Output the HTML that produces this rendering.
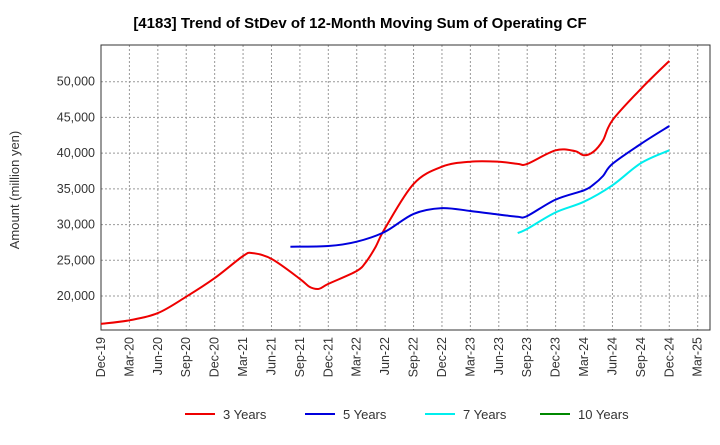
<!DOCTYPE html>
<html><head><meta charset="utf-8"><style>
body{margin:0;background:#fff;font-family:"Liberation Sans",sans-serif;}
</style></head><body>
<svg width="720" height="440" xmlns="http://www.w3.org/2000/svg" id="c"></svg>
<script>
const xLabels=["Dec-19","Mar-20","Jun-20","Sep-20","Dec-20","Mar-21","Jun-21","Sep-21","Dec-21","Mar-22","Jun-22","Sep-22","Dec-22","Mar-23","Jun-23","Sep-23","Dec-23","Mar-24","Jun-24","Sep-24","Dec-24","Mar-25"];
const yTicks=[20000,25000,30000,35000,40000,45000,50000];
const yTickLabels=["20,000","25,000","30,000","35,000","40,000","45,000","50,000"];
const seriesNames=["3 Years","5 Years","7 Years","10 Years"];
const seriesColors=["#e00","#00d","#0ee","#080"];
const s3Months=[0,3,6,9,12,15,16,18,21,22,23,24,27,28,29,30,33,36,39,42,44,45,48,50,51,52,53,54,57,60];
const s3Values=[16100,16600,17600,19900,22500,25600,26000,25200,22400,21300,21000,21700,23500,24800,26900,29500,35700,38100,38800,38800,38500,38500,40400,40300,39700,40200,41800,44600,49000,52900];
const s5Months=[20,24,27,30,33,36,39,42,44,45,48,51,52,53,54,57,60];
const s5Values=[26900,27000,27600,29000,31500,32300,31900,31400,31100,31200,33500,34800,35600,36800,38500,41300,43800];
const s7Months=[44,45,48,51,54,57,60];
const s7Values=[28800,29400,31700,33200,35500,38600,40400];
const s10Months=[];
const s10Values=[];

const L=101,R=710,T=45,B=330,NS="http://www.w3.org/2000/svg";
const svg=document.getElementById('c');
const xS=m=>L+m*(R-L)/64.3;
const yS=v=>B-(v-15240)*(B-T)/(55140-15240);
function el(t,a,p){const e=document.createElementNS(NS,t);for(const k in a)e.setAttribute(k,a[k]);(p||svg).appendChild(e);return e;}
const title=el('text',{x:360,y:28,'text-anchor':'middle','font-size':15,'font-weight':'bold',fill:'#000'});
title.textContent="[4183]  Trend of StDev of 12-Month Moving Sum of Operating CF";


yTicks.forEach((v,i)=>{
  const g=el('line',{x1:L,x2:R,y1:yS(v),y2:yS(v),stroke:'#999','stroke-dasharray':'2,2'});
  
  
  const t=el('text',{x:L-6,y:yS(v)+4,'text-anchor':'end','font-size':12.5,fill:'#333'});
  t.textContent=yTickLabels[i];
  
  
});
xLabels.forEach((s,i)=>{
  const x=xS(i*3);
  const g=el('line',{x1:x,x2:x,y1:T,y2:B,stroke:'#999','stroke-dasharray':'2,2'});
  
  
  const t=el('text',{x:0,y:0,'text-anchor':'end','font-size':12.5,fill:'#333',transform:`translate(${x+4},${B+7}) rotate(-90)`});
  t.textContent=s;
  
  
});
const frame=el('rect',{x:L,y:T,width:R-L,height:B-T,fill:'none',stroke:'#333'});


const yt=el('text',{x:0,y:0,'text-anchor':'middle','font-size':13,fill:'#333',transform:'translate(19,190) rotate(-90)'});
yt.textContent="Amount (million yen)";


function smooth(pts){
  let d='M'+pts[0][0].toFixed(1)+','+pts[0][1].toFixed(1);
  for(let i=0;i<pts.length-1;i++){
    const p0=pts[Math.max(0,i-1)],p1=pts[i],p2=pts[i+1],p3=pts[Math.min(pts.length-1,i+2)];
    const c1=[p1[0]+(p2[0]-p0[0])/6,p1[1]+(p2[1]-p0[1])/6];
    const c2=[p2[0]-(p3[0]-p1[0])/6,p2[1]-(p3[1]-p1[1])/6];
    d+=` C${c1[0].toFixed(1)},${c1[1].toFixed(1)} ${c2[0].toFixed(1)},${c2[1].toFixed(1)} ${p2[0].toFixed(1)},${p2[1].toFixed(1)}`;
  }
  return d;
}
const allM=[s3Months,s5Months,s7Months,s10Months],allV=[s3Values,s5Values,s7Values,s10Values];
allM.forEach((ms,si)=>{
  if(!ms.length)return;
  const pts=ms.map((m,i)=>[xS(m),yS(allV[si][i])]);
  const p=el('path',{d:smooth(pts),fill:'none',stroke:seriesColors[si],'stroke-width':2,'stroke-linejoin':'round'});
  
  
});
const lx=[185,305,425,540];
seriesNames.forEach((n,i)=>{
  const g=el('g',{});
  
  
  el('line',{x1:lx[i],x2:lx[i]+30,y1:414,y2:414,stroke:seriesColors[i],'stroke-width':2},g);
  const t=el('text',{x:lx[i]+38,y:419,'font-size':13,fill:'#333'},g);
  t.textContent=n;
});
</script>
</body></html>
